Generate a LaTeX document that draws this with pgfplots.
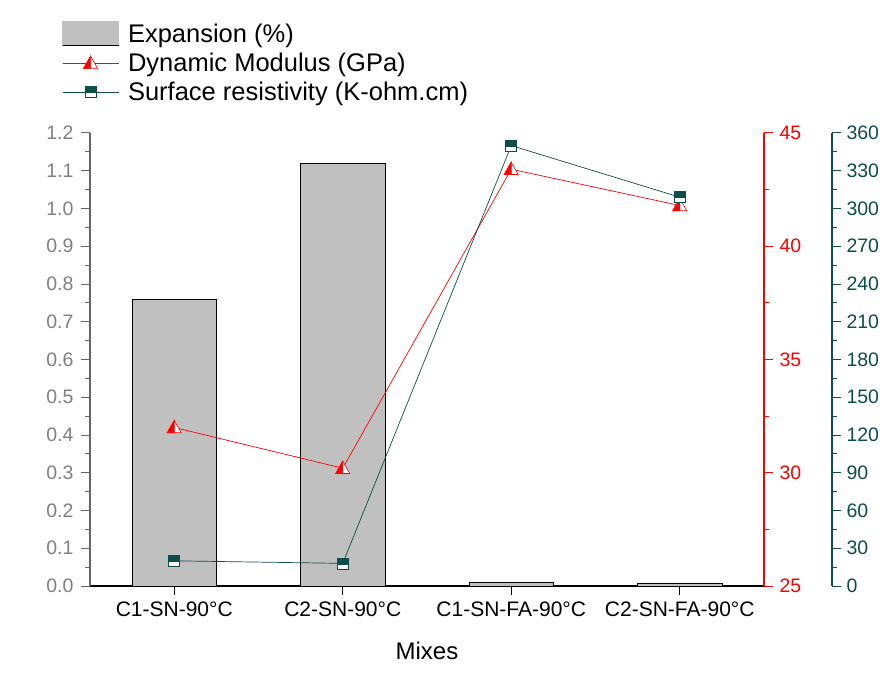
\documentclass[border=0pt]{standalone}
\usepackage{fontspec}
\setmainfont{Liberation Sans}
\usepackage{pgfplots}
\pgfplotsset{compat=1.18}

\definecolor{tealc}{RGB}{14,78,72}
\definecolor{redc}{RGB}{255,0,0}
\definecolor{barg}{RGB}{192,192,192}
\definecolor{axg}{RGB}{128,128,128}
\definecolor{axl}{RGB}{100,100,100}

\pgfdeclareplotmark{halftri}{%
  \pgfpathmoveto{\pgfqpoint{-\pgfplotmarksize}{-0.75\pgfplotmarksize}}%
  \pgfpathlineto{\pgfqpoint{\pgfplotmarksize}{-0.75\pgfplotmarksize}}%
  \pgfpathlineto{\pgfqpoint{0pt}{\pgfplotmarksize}}%
  \pgfpathclose
  \pgfsetfillcolor{white}\pgfusepath{fill,stroke}%
  \pgfpathmoveto{\pgfqpoint{-\pgfplotmarksize}{-0.75\pgfplotmarksize}}%
  \pgfpathlineto{\pgfqpoint{0pt}{-0.75\pgfplotmarksize}}%
  \pgfpathlineto{\pgfqpoint{0pt}{\pgfplotmarksize}}%
  \pgfpathclose
  \pgfsetfillcolor{redc}\pgfusepath{fill,stroke}%
}
\pgfdeclareplotmark{halfsq}{%
  \pgfpathrectangle{\pgfqpoint{-\pgfplotmarksize}{-\pgfplotmarksize}}{\pgfqpoint{2\pgfplotmarksize}{2\pgfplotmarksize}}%
  \pgfsetfillcolor{white}\pgfusepath{fill,stroke}%
  \pgfpathrectangle{\pgfqpoint{-\pgfplotmarksize}{-0.1\pgfplotmarksize}}{\pgfqpoint{2\pgfplotmarksize}{1.1\pgfplotmarksize}}%
  \pgfsetfillcolor{tealc}\pgfusepath{fill,stroke}%
}
\pgfplotsset{
  linelegend/.style={legend image code/.code={%
    \draw[mark repeat=2, mark phase=2, ##1] plot coordinates {(0pt,0pt) (28pt,0pt) (56pt,0pt)};}},
  barlegend/.style={legend image code/.code={%
    \fill[barg] (0pt,-11pt) rectangle (56pt,13pt);
    \draw[black, line width=0.8pt] (0pt,-11pt) -- (56pt,-11pt);}},
}

\begin{document}
\begin{tikzpicture}
\pgfplotsset{
  base/.style={scale only axis, width=674pt, height=453pt, xmin=-0.5, xmax=3.5,
    /pgf/number format/assume math mode=true,
    major tick length=9pt, minor tick length=5pt,
    clip=false},
}
\begin{axis}[base, name=ax1,
  axis x line*=bottom, axis y line*=left, tick align=outside,
  ymin=0, ymax=1.2,
  ytick={0,0.1,0.2,0.3,0.4,0.5,0.6,0.7,0.8,0.9,1.0,1.1,1.2},
  minor y tick num=1,
  yticklabel style={font=\fontsize{19.5pt}{22pt}\selectfont, text=axg, xshift=-4pt,
    /pgf/number format/.cd, fixed, fixed zerofill, precision=1},
  y axis line style={draw=axl, line width=1.2pt},
  ytick style={draw=axl, line width=1pt},
  xtick={0,1,2,3},
  xticklabels={C1-SN-90°C, C2-SN-90°C, C1-SN-FA-90°C, C2-SN-FA-90°C},
  xticklabel style={font=\fontsize{21pt}{24pt}\selectfont, yshift=-3pt},
  x axis line style={draw=black, line width=1.4pt},
  xtick style={draw=black, line width=1.2pt},
  xlabel={Mixes},
  xlabel style={font=\fontsize{24pt}{28pt}\selectfont, yshift=-19pt},
  legend style={at={(-0.0415,1.248)}, anchor=north west, draw=none, fill=none,
    font=\fontsize{25.5pt}{30pt}\selectfont, cells={anchor=west}, inner sep=0pt,
    row sep=5pt, nodes={inner xsep=9pt}},
]
\addplot[ybar, bar width=0.5, fill=barg, draw=black, line width=0.6pt, barlegend]
  coordinates {(0,0.76) (1,1.12) (2,0.01) (3,0.008)};
\addlegendentry{Expansion (\%)}
\addlegendimage{redc, line width=0.7pt, mark=halftri, mark size=7pt,
  mark options={solid, draw=redc, line width=0.6pt}, linelegend}
\addlegendentry{Dynamic Modulus (GPa)}
\addlegendimage{tealc, line width=0.7pt, mark=halfsq, mark size=5.5pt,
  mark options={solid, draw=tealc, line width=0.6pt}, linelegend}
\addlegendentry{Surface resistivity (K-ohm.cm)}
\end{axis}

\begin{axis}[base, hide x axis, axis y line*=right, tick align=outside,
  ymin=25, ymax=45, ytick={25,30,35,40,45}, minor y tick num=1,
  y axis line style={draw=redc, line width=1.2pt},
  ytick style={draw=redc, line width=1pt},
  yticklabel style={font=\fontsize{19.5pt}{22pt}\selectfont, text=redc, xshift=3pt},
]
\addplot[redc, line width=0.7pt, mark=halftri, mark size=7pt,
  mark options={solid, draw=redc, line width=0.6pt}]
  coordinates {(0,32.0) (1,30.2) (2,43.4) (3,41.8)};
\end{axis}

\begin{axis}[base, width=742pt, xmax=3.9036, hide x axis, axis y line*=right,
  tick align=outside,
  ymin=0, ymax=360, ytick={0,30,60,90,120,150,180,210,240,270,300,330,360},
  minor y tick num=1,
  y axis line style={draw=tealc, line width=1.2pt},
  ytick style={draw=tealc, line width=1pt},
  yticklabel style={font=\fontsize{19.5pt}{22pt}\selectfont, text=tealc, xshift=2pt},
]
\addplot[tealc, line width=0.7pt, mark=halfsq, mark size=5.5pt,
  mark options={solid, draw=tealc, line width=0.6pt}]
  coordinates {(0,20) (1,18) (2,350) (3,309)};
\end{axis}

\pgfresetboundingbox
\path[use as bounding box] (ax1.south west) ++(-90pt,-87pt) rectangle ++(880pt,673pt);
\end{tikzpicture}
\end{document}
